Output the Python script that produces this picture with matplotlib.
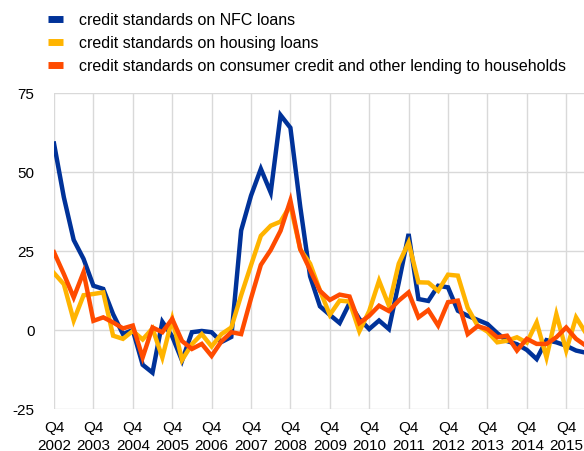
import matplotlib
matplotlib.use("Agg")
import matplotlib.pyplot as plt
from matplotlib.lines import Line2D

plt.rcParams['font.family'] = ['Liberation Sans', 'DejaVu Sans']
plt.rcParams['axes.unicode_minus'] = False

years = list(range(2002, 2016))
tick_labels = [f"Q4\n{y}" for y in years]

nfc = [59, 42, 28.5, 22.5, 14, 13, 5, -1.3, 0, -11, -13.5, 2.6, -2, -9.7, -0.7, -0.3,
       -0.7, -3.8, -2.2, 31.5, 42.5, 51, 43.5, 68, 64, 39, 17, 7.5, 4.8, 2.2, 8.5, 3.5,
       0.3, 3, 0.3, 15, 30.4, 9.8, 9.2, 14, 13.5, 6.1, 4.5, 3.2, 1.9, -1, -3.5, -4.5,
       -6.3, -9.2, -3.2, -3.9, -5, -6.5, -7.2]
housing = [18, 14.5, 3, 11, 11.4, 11.9, -1.8, -2.8, -0.3, -3, 0.5, -8.7, 3.5, -9.5, -4.5, -1.3,
           -5.2, -1.3, 0.8, 11, 20.5, 29.8, 33, 34.3, 39.5, 25.5, 21, 12.5, 4.8, 9.3, 9, -0.4,
           6, 15.6, 7.7, 21, 27.7, 15.1, 15, 12.4, 17.5, 17.2, 7, 1.4, -0.5, -3.9, -3.4, -2.3,
           -4, 2.4, -8.7, 5, -6.5, 4, -1]
consumer = [24.6, 17.7, 10.3, 18.3, 2.9, 4, 2.4, 0.5, 1.4, -8.7, 0.8, -0.7, 3.5, -3.5, -6, -4.4,
            -8.2, -3.6, -0.7, -1.3, 10, 20.6, 25.3, 31.4, 41, 25.6, 19, 12.4, 9.5, 11.2, 10.6, 2.2,
            4.5, 7.7, 6, 9.3, 11.9, 4, 6.3, 1.4, 8.8, 9.3, -1.3, 1.2, 0.3, -2.3, -1.8, -6.5,
            -2.8, -4.4, -4.4, -2.3, 0.8, -2.8, -5]

labels = ["credit standards on NFC loans",
          "credit standards on housing loans",
          "credit standards on consumer credit and other lending to households"]
colors = ["#003299", "#ffb400", "#ff4b00"]

W, H = 584, 452
fig = plt.figure(figsize=(W / 100, H / 100), dpi=100)
ax = fig.add_axes([54 / W, 1 - 410 / H, (W - 54) / W, (410 - 94) / H])

x = list(range(len(nfc)))
for series, c in zip([nfc, housing, consumer], colors):
    ax.plot(x, series, color=c, linewidth=3.2, solid_joinstyle='miter', zorder=3)

ax.set_xlim(0, (W - 54) / 9.85)
ax.set_ylim(-25, 75)
ax.set_yticks([-25, 0, 25, 50, 75])
ax.set_xticks(list(range(0, 53, 4)))
ax.set_xticklabels(tick_labels)
ax.grid(True, color="#d9d9d9", linewidth=1.0, zorder=0)
for s in ax.spines.values():
    s.set_visible(False)
ax.tick_params(axis='both', length=0, labelsize=11, colors='black')
ax.tick_params(axis='y', pad=14)
ax.tick_params(axis='x', pad=8)
for t in ax.get_xticklabels():
    t.set_linespacing(1.35)

handles = [Line2D([0], [0], color=c, linewidth=5, solid_capstyle='butt') for c in colors]
fig.legend(handles, labels, loc='upper left', bbox_to_anchor=(42 / W, 1 - 7 / H),
           frameon=False, fontsize=11.5, handlelength=0.9, handletextpad=1.0,
           labelspacing=0.5, borderaxespad=0)

fig.savefig("out.png", dpi=100)
